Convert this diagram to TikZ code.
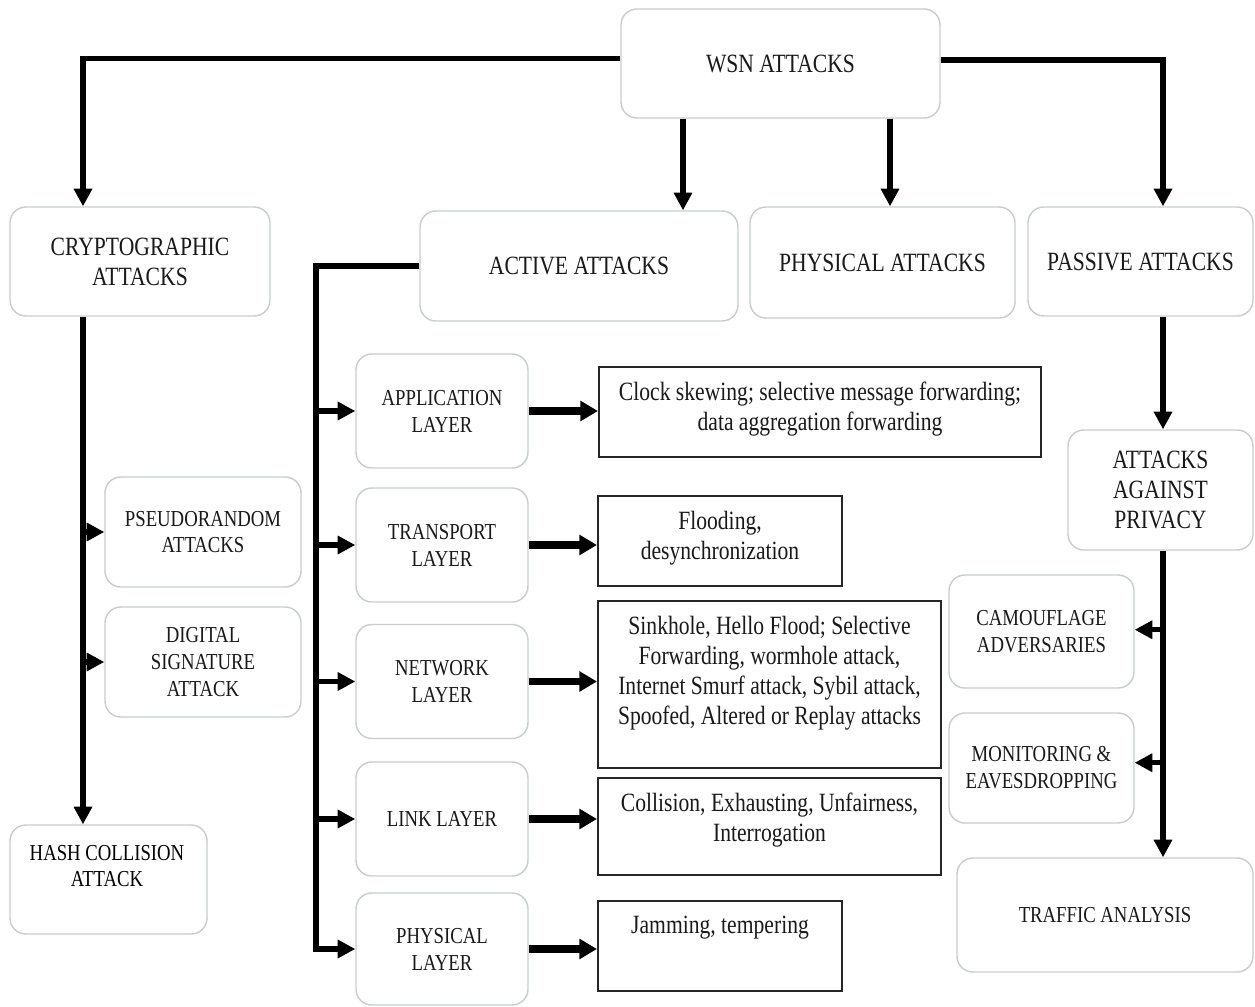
\documentclass[tikz,border=0pt]{standalone}
\usepackage{fontspec}
\setmainfont{Liberation Serif}[FakeStretch=0.82]
\usetikzlibrary{arrows.meta,positioning,calc}
\definecolor{boxgray}{RGB}{198,206,206}

\begin{document}
\begin{tikzpicture}[
  x=0.02cm, y=-0.02cm,
  big/.style={font=\fontsize{15}{17}\selectfont},
  small/.style={font=\fontsize{13}{15.3}\selectfont},
  rbox/.style={draw=boxgray,line width=0.8pt,rounded corners=9pt,align=center,
               inner sep=2pt,text=black!90},
  rect/.style={draw=black!85,line width=1.2pt,inner sep=0pt},
  txt/.style={big,align=center,anchor=north,inner sep=0pt,text=black!90},
  conn/.style={line width=3pt,-{Triangle[length=10pt,width=10pt]}},
  fatconn/.style={line width=4pt,-{Triangle[length=10pt,width=11pt]}}
]
\fill[white] (0,0) rectangle (1255,1007);
\useasboundingbox (0,0) rectangle (1255,1007);

% top level
\node[rbox,big,minimum width=6.38cm,minimum height=2.18cm] (wsn) at (780.5,63.5) {WSN ATTACKS};
\node[rbox,big,minimum width=5.2cm,minimum height=2.18cm] (crypto) at (140,261.5) {CRYPTOGRAPHIC\\ATTACKS};
\node[rbox,big,minimum width=6.36cm,minimum height=2.2cm] (active) at (579,266) {ACTIVE ATTACKS};
\node[rbox,big,minimum width=5.3cm,minimum height=2.22cm] (physatt) at (882.5,262.5) {PHYSICAL ATTACKS};
\node[rbox,big,minimum width=4.5cm,minimum height=2.18cm] (passive) at (1140.5,261.5) {PASSIVE ATTACKS};

% cryptographic branch
\node[rbox,small,minimum width=3.92cm,minimum height=2.2cm] (pseudo) at (203,532) {PSEUDORANDOM\\ATTACKS};
\node[rbox,small,minimum width=3.92cm,minimum height=2.2cm] (digital) at (203,662) {DIGITAL\\SIGNATURE\\ATTACK};
\node[rbox,minimum width=3.94cm,minimum height=2.18cm] (hash) at (108.5,879.5) {};
\node[small,align=center,inner sep=0pt] (hasht) at (107,866) {HASH COLLISION\\ATTACK};

% layers
\node[rbox,small,minimum width=3.44cm,minimum height=2.28cm] (app) at (442,411) {APPLICATION\\LAYER};
\node[rbox,small,minimum width=3.44cm,minimum height=2.28cm] (trans) at (442,545) {TRANSPORT\\LAYER};
\node[rbox,small,minimum width=3.44cm,minimum height=2.28cm] (net) at (442,681.5) {NETWORK\\LAYER};
\node[rbox,small,minimum width=3.44cm,minimum height=2.28cm] (lnk) at (442,819) {LINK LAYER};
\node[rbox,small,minimum width=3.44cm,minimum height=2.24cm] (plt) at (442,949) {PHYSICAL\\LAYER};

% attacks per layer
\node[rect,minimum width=8.84cm,minimum height=1.8cm,anchor=north west] (rapp) at (598,366) {};
\node[txt] (rappt) at ([yshift=-9pt]rapp.north) {Clock skewing; selective message forwarding;\\data aggregation forwarding};
\node[rect,minimum width=4.88cm,minimum height=1.8cm,anchor=north west] (rtrans) at (597,495) {};
\node[txt] (rtranst) at ([yshift=-9pt]rtrans.north) {Flooding,\\desynchronization};
\node[rect,minimum width=6.86cm,minimum height=3.34cm,anchor=north west] (rnet) at (597,600) {};
\node[txt] (rnett) at ([yshift=-9pt]rnet.north) {Sinkhole, Hello Flood; Selective\\Forwarding, wormhole attack,\\Internet Smurf attack, Sybil attack,\\Spoofed, Altered or Replay attacks};
\node[rect,minimum width=6.86cm,minimum height=1.94cm,anchor=north west] (rlnk) at (597,777) {};
\node[txt] (rlnkt) at ([yshift=-9pt]rlnk.north) {Collision, Exhausting, Unfairness,\\Interrogation};
\node[rect,minimum width=4.88cm,minimum height=1.8cm,anchor=north west] (rplt) at (597,900) {};
\node[txt] (rpltt) at ([yshift=-9pt]rplt.north) {Jamming, tempering};

% passive branch
\node[rbox,big,minimum width=3.7cm,minimum height=2.4cm] (privacy) at (1160.5,490) {ATTACKS\\AGAINST\\PRIVACY};
\node[rbox,small,minimum width=3.7cm,minimum height=2.26cm] (camo) at (1041.5,631.5) {CAMOUFLAGE\\ADVERSARIES};
\node[rbox,small,minimum width=3.7cm,minimum height=2.2cm] (moni) at (1041.5,768) {MONITORING \&\\EAVESDROPPING};
\node[rbox,small,minimum width=5.92cm,minimum height=2.28cm] (traffic) at (1105,915) {TRAFFIC ANALYSIS};

% trunk positions
\coordinate (cx) at (83,0);
\coordinate (ax) at (683,0);
\coordinate (bx) at (890,0);
\coordinate (px) at (1163,0);
\coordinate (tx) at (316,0);

\draw[conn] ([yshift=3pt]wsn.west) -| (crypto.north -| cx);
\draw[conn] ([yshift=2pt]wsn.east) -| (passive.north -| px);
\draw[conn] (wsn.south -| ax) -- (active.north -| ax);
\draw[conn] (wsn.south -| bx) -- (physatt.north -| bx);

\draw[conn] (crypto.south -| cx) -- (hash.north -| cx);
\foreach \n in {pseudo,digital}
  \draw[conn] (\n.west -| cx) -- (\n.west);

\draw[conn] (active.west) -| (tx |- plt.west) -- (plt.west);
\foreach \n in {app,trans,net,lnk}
  \draw[conn] (tx |- \n.west) -- (\n.west);
\draw[fatconn] (app.east) -- (app.east -| rapp.west);
\draw[fatconn] (trans.east) -- (trans.east -| rtrans.west);
\draw[fatconn] (net.east) -- (net.east -| rnet.west);
\draw[fatconn] (lnk.east) -- (lnk.east -| rlnk.west);
\draw[fatconn] (plt.east) -- (plt.east -| rplt.west);

\draw[conn] (passive.south -| px) -- (privacy.north -| px);
\draw[conn] (privacy.south -| px) -- (traffic.north -| px);
\draw[conn] ([yshift=1pt]camo.east -| px) -- ([yshift=1pt]camo.east);
\draw[conn] ([yshift=3pt]moni.east -| px) -- ([yshift=3pt]moni.east);
\end{tikzpicture}
\end{document}
